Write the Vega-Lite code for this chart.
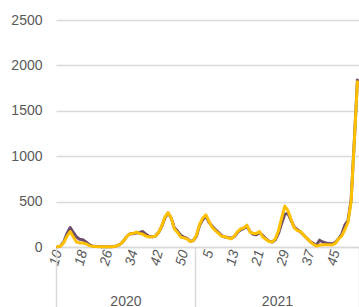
{
  "$schema": "https://vega.github.io/schema/vega-lite/v6.json",
  "width": 303,
  "height": 227,
  "autosize": {"type": "none"},
  "padding": {"left": 56, "top": 20, "right": 0, "bottom": 60},
  "config": {
    "view": {"stroke": null},
    "font": "Liberation Sans",
    "axis": {"labelFont": "Liberation Sans", "labelColor": "#595959", "labelFontSize": 14, "titleFontSize": 14}
  },
  "data": {
    "values": [
      {"i":0,"week":10,"year":2020,"A":2,"B":2},
      {"i":1,"week":11,"year":2020,"A":12,"B":10},
      {"i":2,"week":12,"year":2020,"A":60,"B":50},
      {"i":3,"week":13,"year":2020,"A":150,"B":120},
      {"i":4,"week":14,"year":2020,"A":215,"B":170},
      {"i":5,"week":15,"year":2020,"A":160,"B":110},
      {"i":6,"week":16,"year":2020,"A":110,"B":55},
      {"i":7,"week":17,"year":2020,"A":85,"B":45},
      {"i":8,"week":18,"year":2020,"A":80,"B":45},
      {"i":9,"week":19,"year":2020,"A":55,"B":35},
      {"i":10,"week":20,"year":2020,"A":25,"B":15},
      {"i":11,"week":21,"year":2020,"A":12,"B":8},
      {"i":12,"week":22,"year":2020,"A":8,"B":5},
      {"i":13,"week":23,"year":2020,"A":5,"B":3},
      {"i":14,"week":24,"year":2020,"A":4,"B":3},
      {"i":15,"week":25,"year":2020,"A":3,"B":2},
      {"i":16,"week":26,"year":2020,"A":3,"B":2},
      {"i":17,"week":27,"year":2020,"A":2,"B":2},
      {"i":18,"week":28,"year":2020,"A":5,"B":5},
      {"i":19,"week":29,"year":2020,"A":15,"B":15},
      {"i":20,"week":30,"year":2020,"A":35,"B":35},
      {"i":21,"week":31,"year":2020,"A":70,"B":70},
      {"i":22,"week":32,"year":2020,"A":120,"B":120},
      {"i":23,"week":33,"year":2020,"A":145,"B":145},
      {"i":24,"week":34,"year":2020,"A":145,"B":150},
      {"i":25,"week":35,"year":2020,"A":155,"B":165},
      {"i":26,"week":36,"year":2020,"A":160,"B":150},
      {"i":27,"week":37,"year":2020,"A":170,"B":140},
      {"i":28,"week":38,"year":2020,"A":140,"B":120},
      {"i":29,"week":39,"year":2020,"A":115,"B":110},
      {"i":30,"week":40,"year":2020,"A":112,"B":112},
      {"i":31,"week":41,"year":2020,"A":120,"B":120},
      {"i":32,"week":42,"year":2020,"A":160,"B":160},
      {"i":33,"week":43,"year":2020,"A":225,"B":230},
      {"i":34,"week":44,"year":2020,"A":320,"B":330},
      {"i":35,"week":45,"year":2020,"A":375,"B":380},
      {"i":36,"week":46,"year":2020,"A":320,"B":320},
      {"i":37,"week":47,"year":2020,"A":210,"B":200},
      {"i":38,"week":48,"year":2020,"A":175,"B":160},
      {"i":39,"week":49,"year":2020,"A":130,"B":110},
      {"i":40,"week":50,"year":2020,"A":110,"B":100},
      {"i":41,"week":51,"year":2020,"A":95,"B":90},
      {"i":42,"week":52,"year":2020,"A":62,"B":60},
      {"i":43,"week":53,"year":2020,"A":70,"B":70},
      {"i":44,"week":1,"year":2021,"A":120,"B":130},
      {"i":45,"week":2,"year":2021,"A":240,"B":250},
      {"i":46,"week":3,"year":2021,"A":300,"B":320},
      {"i":47,"week":4,"year":2021,"A":340,"B":355},
      {"i":48,"week":5,"year":2021,"A":270,"B":280},
      {"i":49,"week":6,"year":2021,"A":230,"B":215},
      {"i":50,"week":7,"year":2021,"A":190,"B":180},
      {"i":51,"week":8,"year":2021,"A":160,"B":150},
      {"i":52,"week":9,"year":2021,"A":125,"B":115},
      {"i":53,"week":10,"year":2021,"A":110,"B":115},
      {"i":54,"week":11,"year":2021,"A":105,"B":100},
      {"i":55,"week":12,"year":2021,"A":95,"B":90},
      {"i":56,"week":13,"year":2021,"A":115,"B":120},
      {"i":57,"week":14,"year":2021,"A":160,"B":170},
      {"i":58,"week":15,"year":2021,"A":190,"B":200},
      {"i":59,"week":16,"year":2021,"A":205,"B":210},
      {"i":60,"week":17,"year":2021,"A":225,"B":240},
      {"i":61,"week":18,"year":2021,"A":170,"B":165},
      {"i":62,"week":19,"year":2021,"A":140,"B":150},
      {"i":63,"week":20,"year":2021,"A":135,"B":150},
      {"i":64,"week":21,"year":2021,"A":160,"B":170},
      {"i":65,"week":22,"year":2021,"A":125,"B":110},
      {"i":66,"week":23,"year":2021,"A":90,"B":85},
      {"i":67,"week":24,"year":2021,"A":65,"B":60},
      {"i":68,"week":25,"year":2021,"A":55,"B":55},
      {"i":69,"week":26,"year":2021,"A":80,"B":90},
      {"i":70,"week":27,"year":2021,"A":150,"B":180},
      {"i":71,"week":28,"year":2021,"A":260,"B":320},
      {"i":72,"week":29,"year":2021,"A":360,"B":450},
      {"i":73,"week":30,"year":2021,"A":370,"B":400},
      {"i":74,"week":31,"year":2021,"A":290,"B":300},
      {"i":75,"week":32,"year":2021,"A":220,"B":210},
      {"i":76,"week":33,"year":2021,"A":190,"B":180},
      {"i":77,"week":34,"year":2021,"A":165,"B":170},
      {"i":78,"week":35,"year":2021,"A":130,"B":130},
      {"i":79,"week":36,"year":2021,"A":95,"B":95},
      {"i":80,"week":37,"year":2021,"A":60,"B":60},
      {"i":81,"week":38,"year":2021,"A":40,"B":30},
      {"i":82,"week":39,"year":2021,"A":20,"B":10},
      {"i":83,"week":40,"year":2021,"A":75,"B":20},
      {"i":84,"week":41,"year":2021,"A":55,"B":25},
      {"i":85,"week":42,"year":2021,"A":45,"B":25},
      {"i":86,"week":43,"year":2021,"A":40,"B":25},
      {"i":87,"week":44,"year":2021,"A":35,"B":22},
      {"i":88,"week":45,"year":2021,"A":50,"B":40},
      {"i":89,"week":46,"year":2021,"A":90,"B":90},
      {"i":90,"week":47,"year":2021,"A":140,"B":120},
      {"i":91,"week":48,"year":2021,"A":240,"B":190},
      {"i":92,"week":49,"year":2021,"A":290,"B":270},
      {"i":93,"week":50,"year":2021,"A":520,"B":500},
      {"i":94,"week":51,"year":2021,"A":1160,"B":1150},
      {"i":95,"week":52,"year":2021,"A":1840,"B":1820}
    ]
  },
  "layer": [
    {
      "mark": {"type": "line", "color": "#6E4D6C", "strokeWidth": 3, "strokeJoin": "round", "strokeCap": "round"},
      "encoding": {
        "x": {
          "field": "i", "type": "quantitative",
          "scale": {"domain": [-0.5, 95.5], "nice": false, "zero": false},
          "axis": {
            "title": null, "values": [0, 8, 16, 24, 32, 40, 48, 56, 64, 72, 80, 88],
            "labelExpr": "datum.value < 44 ? '' + (datum.value + 10) : '' + (datum.value - 43)",
            "labelAngle": -75, "labelPadding": 3, "ticks": false, "grid": false,
            "domain": true, "domainColor": "#d9d9d9", "domainWidth": 1.5,
            "labelFlush": false, "labelOverlap": false, "labelFontStyle": "italic"
          }
        },
        "y": {
          "field": "A", "type": "quantitative",
          "scale": {"domain": [0, 2500], "nice": false},
          "axis": {
            "title": null, "values": [0, 500, 1000, 1500, 2000, 2500], "format": "d",
            "grid": true, "gridColor": "#d9d9d9", "gridWidth": 1.5,
            "domain": false, "ticks": false, "labelPadding": 14
          }
        }
      }
    },
    {
      "mark": {"type": "line", "color": "#FFC000", "strokeWidth": 3, "strokeJoin": "round", "strokeCap": "round"},
      "encoding": {
        "x": {
          "field": "i", "type": "quantitative",
          "axis": {
            "title": null, "orient": "bottom", "offset": 0,
            "values": [-0.5, 21.5, 43.5, 69.5, 95.5],
            "labelExpr": "datum.value == 21.5 ? '2020' : (datum.value == 69.5 ? '2021' : '')",
            "domain": false, "grid": false,
            "ticks": true, "tickSize": 60, "tickColor": "#d9d9d9", "tickWidth": 1.5,
            "tickOpacity": {"condition": {"test": "datum.value == 21.5 || datum.value == 69.5", "value": 0}, "value": 1},
            "labelAngle": 0, "labelAlign": "center", "labelBaseline": "middle",
            "labelPadding": -6, "labelFlush": false, "labelOverlap": false, "labelBound": false
          }
        },
        "y": {
          "field": "B", "type": "quantitative",
          "axis": {
            "title": null, "values": [0, 500, 1000, 1500, 2000, 2500], "format": "d",
            "grid": true, "gridColor": "#d9d9d9", "gridWidth": 1.5,
            "domain": false, "ticks": false, "labelPadding": 14
          }
        }
      }
    }
  ],
  "resolve": {"axis": {"x": "independent"}}
}
